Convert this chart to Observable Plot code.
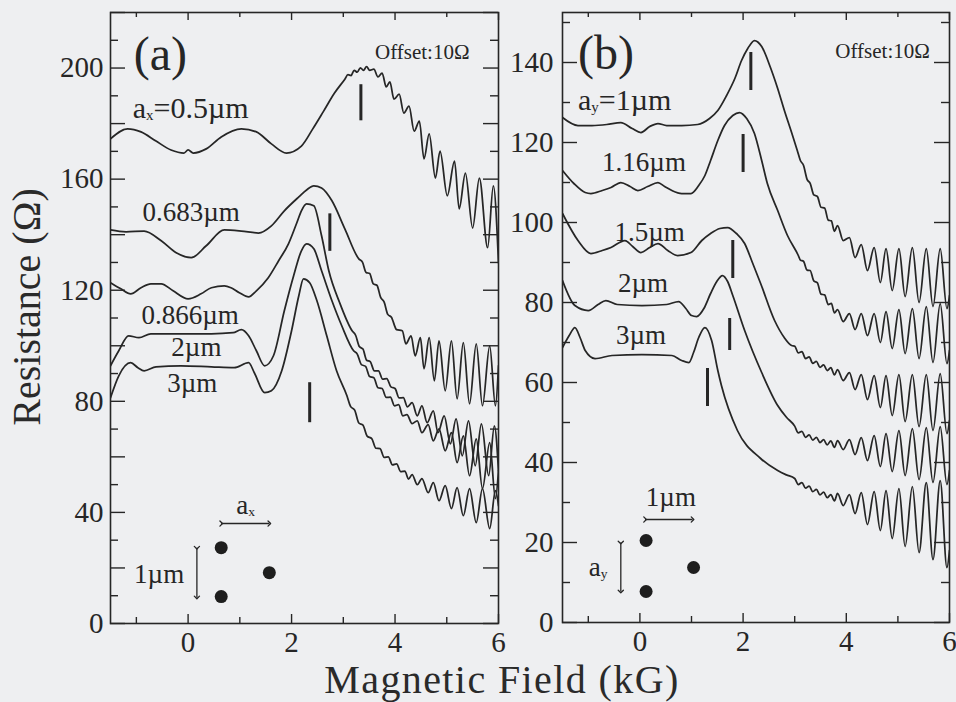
<!DOCTYPE html>
<html><head><meta charset="utf-8">
<script src="https://cdn.jsdelivr.net/npm/d3@7"></script>
<script src="https://cdn.jsdelivr.net/npm/@observablehq/plot@0.6"></script>
<style>
html,body{margin:0;padding:0;background:#eeeff1;}
#wrap{position:relative;width:956px;height:702px;overflow:hidden;font-family:"Liberation Serif","Times New Roman",serif;color:#2a2a2a;}
.p{position:absolute;top:0;}
#xl{position:absolute;left:252px;width:500px;top:664.5px;text-align:center;font-size:40px;letter-spacing:1.4px;line-height:30px;height:30px;white-space:nowrap;}
#yl{position:absolute;left:27px;top:307px;transform:translate(-50%,-50%) rotate(-90deg);font-size:40px;line-height:1;white-space:nowrap;}
</style></head>
<body><div id="wrap"><div id="pa" class="p" style="left:0"></div><div id="pb" class="p" style="left:452px"></div><div id="xl">Magnetic Field (kG)</div><div id="yl">Resistance (Ω)</div></div>
<script>
// ---------- Panel (a): R (Ω) vs B (kG), offset 10 Ω ----------
const curveA_0p5 = [[-1.5,174.5],[-1.17,178.1],[-0.91,177.0],[-0.62,173.7],[-0.33,170.5],[-0.08,169.4],[0.0,170.5],[0.10,169.4],[0.35,170.9],[0.64,175.2],[1.03,178.1],[1.32,177.0],[1.61,172.7],[1.90,169.4],[2.19,171.9],[2.41,178.1],[2.62,184.5],[2.83,191.0],[3.03,196.0],
 [3.09,197.6],[3.15,197.3],[3.21,199.2],[3.27,198.5],[3.33,200.1],[3.39,199.2],[3.45,200.5],[3.51,199.2],
 [3.59,199.6],[3.67,196.8],[3.75,198.2],[3.83,193.2],[3.90,195.0],[3.98,188.8],[4.08,190.6],[4.17,183.8],[4.27,186.3],[4.37,177.3],[4.47,180.9],[4.56,167.3],[4.66,176.3],[4.78,160.4],[4.87,170.1],[5.01,154.0],[5.15,166.5],[5.24,149.3],[5.36,162.2],[5.50,142.4],[5.63,160.4],[5.79,135.3],[5.90,157.6],[6.0,129.9]];
const curveA_0p683 = [[-1.5,141.7],[-1.20,141.0],[-0.85,141.3],[-0.52,137.8],[-0.23,133.5],[0.06,131.7],[0.35,136.0],[0.70,141.7],[1.03,141.3],[1.36,140.6],[1.61,143.2],[1.86,148.6],[2.14,153.6],[2.29,156.1],[2.43,157.6],[2.58,156.8],[2.78,152.2],[3.03,142.1],[3.30,131.3],
 [3.37,130.1],[3.44,126.4],[3.51,126.0],[3.58,122.3],[3.65,121.8],[3.72,117.5],[3.79,115.7],[3.86,111.3],[3.93,110.3],[4.03,105.8],
 [4.14,105.4],[4.21,100.7],[4.31,103.6],[4.39,96.4],[4.49,102.9],[4.56,91.7],[4.66,102.9],[4.76,87.4],[4.85,101.8],[4.97,83.8],[5.09,101.8],[5.20,80.9],[5.32,101.1],[5.44,79.1],[5.57,100.7],[5.69,78.4],[5.83,100.0],[5.94,78.4],[6.0,92.8]];
const curveA_0p866 = [[-1.5,122.7],[-1.30,120.5],[-1.11,118.7],[-0.91,120.9],[-0.72,122.3],[-0.52,122.3],[-0.29,119.8],[0.0,116.9],[0.25,118.7],[0.45,120.9],[0.70,121.6],[0.83,120.9],[0.99,119.1],[1.17,117.6],[1.32,119.8],[1.55,124.5],[1.75,130.6],[1.94,136.7],[2.10,144.2],[2.19,148.6],[2.29,151.1],[2.43,150.4],[2.58,139.6],[2.72,127.0],[2.93,115.5],[3.17,105.4],
 [3.24,103.7],[3.31,99.7],[3.38,98.8],[3.45,94.8],[3.52,94.3],[3.60,91.0],[3.68,91.0],[3.76,88.0],[3.84,88.2],[3.92,85.2],[4.00,84.6],[4.08,81.2],[4.16,81.3],[4.24,78.0],
 [4.33,79.5],[4.43,74.8],[4.52,78.4],[4.62,72.3],[4.74,76.6],[4.83,68.7],[4.95,74.8],[5.07,64.7],[5.18,73.7],[5.30,60.4],[5.42,73.0],[5.55,56.8],[5.67,71.9],[5.81,53.2],[5.92,71.2],[6.0,55.0]];
const curveA_2 = [[-1.5,92.8],[-1.34,98.2],[-1.15,103.6],[-0.95,102.9],[-0.72,104.3],[-0.14,104.3],[0.45,104.3],[0.87,104.7],[1.03,105.8],[1.17,103.6],[1.32,98.2],[1.48,92.8],[1.65,96.4],[1.86,112.6],[2.04,125.2],[2.19,134.2],[2.29,136.7],[2.43,134.9],[2.58,127.0],[2.78,116.2],[2.97,107.2],[3.20,98.2],
 [3.27,97.0],[3.35,93.2],[3.43,92.6],[3.51,88.9],[3.59,88.5],[3.67,84.9],[3.75,84.6],[3.83,81.4],[3.91,81.5],[3.99,78.4],[4.07,78.8],[4.15,74.8],[4.23,75.2],[4.33,72.0],
 [4.43,73.0],[4.52,68.7],[4.64,71.6],[4.74,65.8],[4.85,70.1],[4.97,62.2],[5.09,68.7],[5.20,57.9],[5.32,67.6],[5.44,53.2],[5.57,66.5],[5.69,48.6],[5.83,65.1],[5.94,45.0],[6.0,55.0]];
const curveA_3 = [[-1.5,81.3],[-1.34,89.2],[-1.11,93.9],[-0.97,92.1],[-0.85,91.0],[-0.62,92.4],[-0.14,92.8],[0.45,92.4],[0.89,92.1],[1.17,93.9],[1.28,90.3],[1.48,83.1],[1.61,83.8],[1.81,91.0],[2.00,105.4],[2.14,118.0],[2.23,124.1],[2.35,122.7],[2.49,116.2],[2.68,103.6],[2.87,91.0],[3.07,82.0],
 [3.14,78.2],[3.22,76.8],[3.30,72.2],[3.38,71.4],[3.46,67.5],[3.55,66.6],[3.63,63.1],[3.71,63.0],[3.79,59.8],[3.87,60.0],[3.95,57.1],[4.03,57.5],[4.11,54.7],[4.19,54.9],[4.26,52.0],
 [4.33,53.6],[4.43,50.0],[4.52,52.2],[4.64,47.1],[4.74,50.7],[4.85,44.2],[4.97,49.6],[5.09,41.4],[5.20,48.9],[5.32,38.8],[5.44,48.6],[5.57,36.3],[5.69,48.6],[5.83,34.2],[5.94,47.8],[6.0,42.4]];

// ---------- Panel (b) ----------
const curveB_1 = [[-1.5,126.25],[-1.20,124.25],[-0.93,124.25],[-0.64,124.5],[-0.37,125.0],[-0.15,123.5],[0.02,122.5],[0.19,124.0],[0.35,124.75],[0.52,124.25],[0.81,124.25],[1.12,124.5],[1.35,126.0],[1.51,128.0],[1.68,131.75],[1.84,136.0],[1.97,140.5],[2.09,143.5],[2.22,145.5],[2.36,144.0],[2.53,138.75],[2.67,133.5],[2.80,128.0],[2.94,122.5],[3.05,118.0],
 [3.11,115.5],[3.17,114.3],[3.24,110.8],[3.30,109.8],[3.37,106.9],[3.44,106.5],[3.51,103.8],[3.58,103.6],[3.65,100.6],[3.71,100.4],[3.77,97.8],
 [3.83,99.25],[3.94,95.5],[4.06,96.25],[4.17,91.25],[4.29,94.5],[4.41,88.0],[4.54,93.75],[4.66,85.0],[4.77,93.5],[4.89,83.0],[5.02,93.5],[5.14,81.5],[5.28,93.75],[5.41,80.0],[5.55,93.5],[5.68,79.0],[5.82,93.5],[5.95,78.5],[6.0,81.75]];
const curveB_1p16 = [[-1.5,113.0],[-1.28,109.75],[-1.06,107.5],[-0.95,107.25],[-0.73,108.0],[-0.56,108.75],[-0.37,110.0],[-0.19,109.0],[-0.04,108.0],[0.15,109.0],[0.35,110.0],[0.48,109.0],[0.62,108.0],[0.81,107.25],[0.99,107.25],[1.14,109.25],[1.26,111.75],[1.37,115.5],[1.51,120.5],[1.64,124.25],[1.80,126.75],[1.93,127.5],[2.07,126.0],[2.22,122.25],[2.36,115.5],[2.47,109.75],[2.67,103.0],[2.86,96.75],[3.07,91.75],
 [3.11,90.6],[3.17,90.3],[3.24,88.1],[3.30,88.0],[3.37,85.4],[3.44,84.9],[3.51,82.1],[3.58,81.9],[3.65,79.5],[3.71,79.8],[3.77,77.4],
 [3.83,78.25],[3.94,75.25],[4.06,77.25],[4.17,73.25],[4.29,77.25],[4.41,71.75],[4.54,77.25],[4.66,70.0],[4.77,77.75],[4.89,68.5],[5.02,78.25],[5.14,67.25],[5.28,78.5],[5.41,66.0],[5.55,79.0],[5.68,65.0],[5.82,79.75],[5.95,64.75],[6.0,68.0]];
const curveB_1p5 = [[-1.5,102.25],[-1.20,95.5],[-0.95,92.25],[-0.73,93.0],[-0.56,93.75],[-0.29,95.5],[-0.14,94.0],[0.02,92.5],[0.19,93.75],[0.35,94.75],[0.54,93.0],[0.73,91.75],[0.99,92.5],[1.20,95.5],[1.37,97.25],[1.55,98.5],[1.70,98.75],[1.87,97.25],[2.03,94.75],[2.18,90.0],[2.34,84.75],[2.61,75.5],[2.80,71.2],[2.94,69.25],
 [3.00,69.1],[3.07,67.4],[3.14,67.7],[3.21,66.0],[3.28,66.4],[3.35,64.8],[3.42,65.3],[3.49,63.8],[3.56,64.4],[3.63,63.0],[3.70,63.7],[3.77,61.9],
 [3.83,63.25],[3.94,60.5],[4.06,62.5],[4.17,58.25],[4.29,62.0],[4.41,55.75],[4.54,61.75],[4.66,53.75],[4.77,61.75],[4.89,51.75],[5.02,62.0],[5.14,50.25],[5.28,62.0],[5.41,49.0],[5.55,62.0],[5.68,48.0],[5.82,62.25],[5.95,47.25],[6.0,50.5]];
const curveB_2 = [[-1.5,85.5],[-1.26,79.25],[-1.00,78.0],[-0.81,79.5],[-0.66,80.5],[-0.44,79.5],[0.04,79.25],[0.52,79.5],[0.75,80.25],[0.89,78.5],[1.00,76.75],[1.10,76.5],[1.24,78.5],[1.37,82.25],[1.49,85.25],[1.60,86.75],[1.70,85.25],[1.80,81.75],[2.03,73.0],[2.36,62.5],[2.67,54.25],[2.84,51.3],
 [3.00,49.1],[3.07,47.4],[3.14,47.8],[3.21,46.3],[3.28,46.9],[3.35,45.6],[3.42,46.3],[3.49,45.0],[3.56,45.7],[3.63,44.4],[3.70,45.4],[3.77,43.8],
 [3.83,45.5],[3.94,43.25],[4.06,45.75],[4.17,42.0],[4.29,46.25],[4.41,40.5],[4.54,46.75],[4.66,39.0],[4.77,47.25],[4.89,37.75],[5.02,48.0],[5.14,36.75],[5.28,48.5],[5.41,35.75],[5.55,48.75],[5.68,35.0],[5.82,49.0],[5.95,34.5],[6.0,38.0]];
const curveB_3 = [[-1.5,68.75],[-1.37,71.75],[-1.26,73.75],[-1.16,71.25],[-1.06,68.0],[-0.87,66.0],[-0.54,66.75],[0.04,67.0],[0.62,66.75],[0.81,65.5],[0.95,65.0],[1.04,67.5],[1.14,71.25],[1.26,73.75],[1.39,70.5],[1.51,63.0],[1.58,59.25],[1.89,48.0],[2.34,41.0],[2.67,38.0],[2.84,36.9],
 [3.00,36.0],[3.07,34.5],[3.14,35.0],[3.21,33.6],[3.28,34.1],[3.35,32.7],[3.42,33.3],[3.49,31.9],[3.56,32.6],[3.63,31.2],[3.70,32.0],[3.77,30.4],
 [3.83,32.25],[3.94,29.25],[4.06,32.0],[4.17,27.25],[4.29,32.5],[4.41,24.5],[4.54,32.75],[4.66,23.0],[4.77,33.0],[4.89,21.0],[5.02,33.5],[5.14,19.0],[5.28,34.0],[5.41,17.5],[5.55,35.0],[5.68,15.75],[5.82,35.5],[5.95,13.75],[6.0,18.0]];

// ---------- axes ----------
const xMajorTicks = [0, 2, 4, 6];
const xMinorTicks = [-1, 1, 3, 5];
const yLabelsA = [0, 40, 80, 120, 160, 200];
const yMajorA = [0, 20, 40, 60, 80, 100, 120, 140, 160, 180, 200, 220];
const yMinorA = [10, 30, 50, 70, 90, 110, 130, 150, 170, 190, 210];
const yLabelsB = [0, 20, 40, 60, 80, 100, 120, 140];
const yMinorB = [10, 30, 50, 70, 90, 110, 130, 150];

// ---------- annotations ----------
const labelTextA = ["a_x=0.5µm", "0.683µm", "0.866µm", "2µm", "3µm"];
const labelFieldA = [-1.07, 0.06, 0.04, 0.16, 0.08];
const labelResA = [185.3, 148.2, 110.8, 99.6, 86.3];
const labelTextB = ["a_y=1µm", "1.16µm", "1.5µm", "2µm", "3µm"];
const labelFieldB = [-1.20, 0.08, 0.19, 0.06, 0.02];
const labelResB = [130.5, 115, 97.5, 84.75, 71.75];

const barFieldA = [3.34, 2.74, 2.35];
const barLowA = [181, 134, 72.3];
const barHighA = [194, 147.5, 86.7];
const barFieldB = [2.15, 2.0, 1.80, 1.74, 1.31];
const barLowB = [133, 112.5, 86, 68, 54];
const barHighB = [142.5, 122, 95.5, 76, 63.5];

const dotFieldA = [0.64, 1.57, 0.64];
const dotResA = [27.3, 18.3, 9.7];
const dotFieldB = [0.12, 1.04, 0.12];
const dotResB = [20.5, 13.75, 7.75];
// arrows: [x1, y1, x2, y2] in data units
const arrowsA = [[0.64, 36, 1.57, 36], [0.17, 27.3, 0.17, 9.4]];
const arrowsB = [[0.10, 25.75, 1.02, 25.75], [-0.37, 20, -0.37, 7.75]];
const insetTextA = ["a_x", "1µm"];
const insetFieldA = [1.11, -0.56];
const insetResA = [42.4, 17.6];
const insetTextB = ["1µm", "a_y"];
const insetFieldB = [0.60, -0.81];
const insetResB = [31.25, 13.75];
const offsetText = "Offset:10Ω";

const INK = "#262626";

function subscripts(svg) {
  const ns = "http://www.w3.org/2000/svg";
  svg.querySelectorAll("text").forEach(t => {
    if (t.querySelector("tspan")) return;
    const m = t.textContent.match(/^(.*?)_(\w)(.*)$/);
    if (!m) return;
    t.textContent = "";
    const a = document.createElementNS(ns, "tspan"); a.textContent = m[1];
    const b = document.createElementNS(ns, "tspan"); b.textContent = m[2];
    b.setAttribute("font-size", "0.5em"); b.setAttribute("dy", "2");
    const c = document.createElementNS(ns, "tspan"); c.textContent = m[3]; c.setAttribute("dy", "-2");
    t.append(a, b, c);
  });
}

function panel(o) {
  const W = 500, H = 665;
  const fw = W - o.ml - o.mr, fh = H - o.mt - o.mb;
  const lines = o.curves.map(c => Plot.line(c, {x: d => d[0], y: d => d[1], curve: "monotone-x", stroke: INK, strokeWidth: 1.75, clip: true}));
  const idx = (arr) => arr.map((_, i) => i);
  const rest = idx(o.labT).slice(1);
  const svg = Plot.plot({
    width: W, height: H,
    marginLeft: o.ml, marginRight: o.mr, marginTop: o.mt, marginBottom: o.mb,
    x: {domain: [-1.5, 6]},
    y: {domain: o.ydom},
    style: {fontFamily: '"Liberation Serif","Times New Roman",serif', fontSize: "29px", color: INK, background: "transparent", overflow: "visible"},
    marks: [
      Plot.frame({stroke: INK, strokeWidth: 1.6}),
      Plot.tickX(xMajorTicks, {x: d => d, insetTop: fh - 9, stroke: INK, strokeWidth: 1.4}),
      Plot.tickX(xMinorTicks, {x: d => d, insetTop: fh - 6, stroke: INK, strokeWidth: 1.4}),
      Plot.tickX(xMajorTicks, {x: d => d, insetBottom: fh - 8, stroke: INK, strokeWidth: 1.4}),
      Plot.tickX(xMinorTicks, {x: d => d, insetBottom: fh - 5, stroke: INK, strokeWidth: 1.4}),
      Plot.tickY(o.yMaj, {y: d => d, insetRight: fw - 15, stroke: INK, strokeWidth: 1.4}),
      Plot.tickY(o.yMin, {y: d => d, insetRight: fw - 8, stroke: INK, strokeWidth: 1.4}),
      Plot.tickY(o.yMaj, {y: d => d, insetLeft: fw - 15, stroke: INK, strokeWidth: 1.4}),
      Plot.tickY(o.yMin, {y: d => d, insetLeft: fw - 8, stroke: INK, strokeWidth: 1.4}),
      Plot.axisX(xMajorTicks, {anchor: "bottom", tickSize: 0, tickPadding: 7.5, fontSize: 29, fill: INK}),
      Plot.axisY(o.yLab, {anchor: "left", tickSize: 0, tickPadding: o.pad, fontSize: 29, fill: INK}),
      ...lines,
      Plot.ruleX(idx(o.barF), {x: i => o.barF[i], y1: i => o.barLo[i], y2: i => o.barHi[i], stroke: INK, strokeWidth: 3}),
      Plot.text([0], {x: i => o.labF[i], y: i => o.labR[i], text: i => o.labT[i], textAnchor: "start", fontSize: 30, fill: INK}),
      Plot.text(rest, {x: i => o.labF[i], y: i => o.labR[i], text: i => o.labT[i], textAnchor: "middle", fontSize: 27, fill: INK}),
      Plot.text([o.panel], {x: o.panelF, y: o.panelR, text: d => d, textAnchor: "start", fontSize: 48, fill: INK}),
      Plot.text([offsetText], {x: o.offF, y: o.offR, text: d => d, textAnchor: "end", fontSize: 21, fill: INK}),
      Plot.dot(idx(o.dotF), {x: i => o.dotF[i], y: i => o.dotR[i], r: 6.5, fill: "#1e1e1e", stroke: null}),
      Plot.link(o.arrows, {x1: d => d[0], y1: d => d[1], x2: d => d[2], y2: d => d[3], stroke: INK, strokeWidth: 1.3, markerStart: "arrow", markerEnd: "arrow"}),
      Plot.text(idx(o.insT), {x: i => o.insF[i], y: i => o.insR[i], text: i => o.insT[i], textAnchor: "middle", fontSize: 27, fill: INK})
    ]
  });
  subscripts(svg);
  return svg;
}

document.getElementById("pa").append(panel({
  ml: 110, mr: 2, mt: 12, mb: 42, ydom: [0, 220], pad: 7,
  curves: [curveA_0p5, curveA_0p683, curveA_0p866, curveA_2, curveA_3],
  yMaj: yMajorA, yMin: yMinorA, yLab: yLabelsA,
  barF: barFieldA, barLo: barLowA, barHi: barHighA,
  labT: labelTextA, labF: labelFieldA, labR: labelResA,
  panel: "(a)", panelF: -1.05, panelR: 205,
  offF: 5.44, offR: 205.8,
  dotF: dotFieldA, dotR: dotResA, arrows: arrowsA,
  insT: insetTextA, insF: insetFieldA, insR: insetResA
}));
document.getElementById("pb").append(panel({
  ml: 110, mr: 3, mt: 12, mb: 43, ydom: [0, 152.5], pad: 9,
  curves: [curveB_1, curveB_1p16, curveB_1p5, curveB_2, curveB_3],
  yMaj: yLabelsB, yMin: yMinorB, yLab: yLabelsB,
  barF: barFieldB, barLo: barLowB, barHi: barHighB,
  labT: labelTextB, labF: labelFieldB, labR: labelResB,
  panel: "(b)", panelF: -1.20, panelR: 142.25,
  offF: 5.62, offR: 142.75,
  dotF: dotFieldB, dotR: dotResB, arrows: arrowsB,
  insT: insetTextB, insF: insetFieldB, insR: insetResB
}));
</script>
</body></html>
